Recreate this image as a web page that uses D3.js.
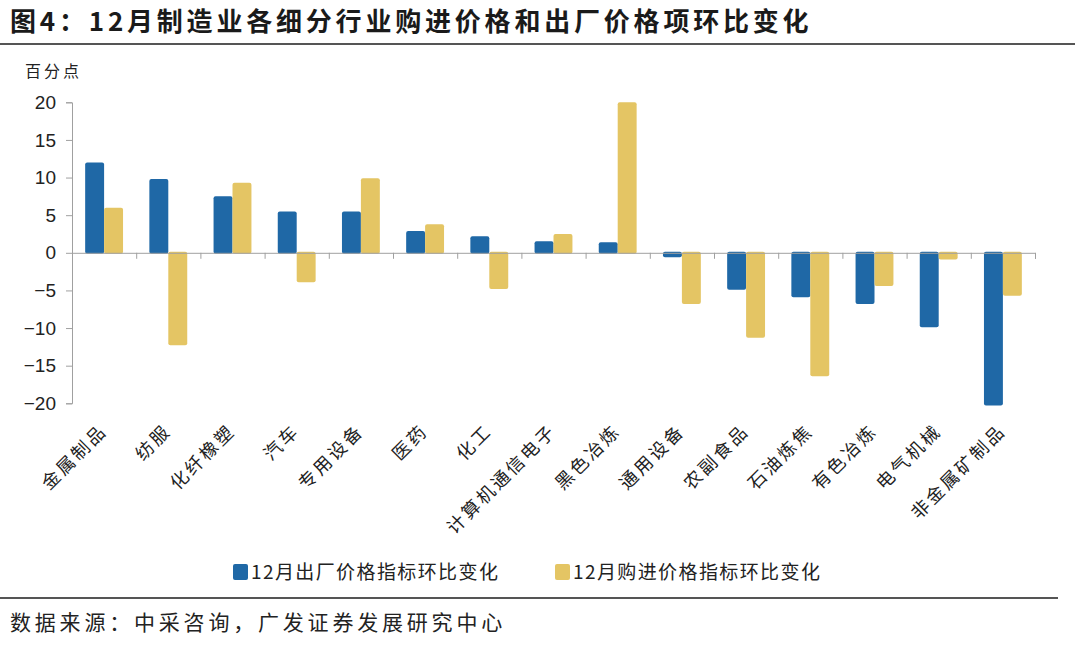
<!DOCTYPE html>
<html>
<head>
<meta charset="utf-8">
<script src="https://cdn.jsdelivr.net/npm/d3@7/dist/d3.min.js"></script>
<style>
  html, body { margin: 0; padding: 0; background: #fff; }
  svg { display: block; }
</style>
</head>
<body>
<svg id="chart" width="1080" height="645"></svg>
<script>
const categories = ["金属制品","纺服","化纤橡塑","汽车","专用设备","医药","化工","计算机通信电子","黑色冶炼","通用设备","农副食品","石油炼焦","有色冶炼","电气机械","非金属矿制品"];
const factoryPrice = [12.0, 9.8, 7.5, 5.5, 5.5, 2.9, 2.2, 1.55, 1.4, -0.6, -4.9, -5.9, -6.8, -9.9, -20.3];
const purchasePrice = [6.0, -12.3, 9.3, -3.9, 9.9, 3.8, -4.8, 2.5, 20.0, -6.8, -11.3, -16.4, -4.4, -0.9, -5.7];
const seriesNames = ["12月出厂价格指标环比变化", "12月购进价格指标环比变化"];
const yTicks = [-20, -15, -10, -5, 0, 5, 10, 15, 20];
const titleText = "图4：12月制造业各细分行业购进价格和出厂价格项环比变化";
const unitText = "百分点";
const sourceText = "数据来源：中采咨询，广发证券发展研究中心";

const colors = ["#1F68A6", "#E4C564"];
const svg = d3.select("#chart");
const cjk = "'Noto Sans CJK SC', 'Noto Sans', sans-serif";
const latin = "'Liberation Sans', Arial, 'Noto Sans CJK SC', sans-serif";

// Title
svg.append("text")
  .attr("x", 10).attr("y", 31)
  .attr("font-family", cjk).attr("font-weight", "bold")
  .attr("font-size", 26).attr("letter-spacing", 3.8)
  .attr("fill", "#1a1a1a")
  .text(titleText);
svg.append("line").attr("x1", 0).attr("x2", 1075).attr("y1", 44).attr("y2", 44)
  .attr("stroke", "#555").attr("stroke-width", 2);

// Unit
svg.append("text")
  .attr("x", 25).attr("y", 77)
  .attr("font-family", cjk).attr("font-size", 16).attr("letter-spacing", 3)
  .attr("fill", "#222").text(unitText);

const left = 72, right = 1035;
const y = d3.scaleLinear().domain([-20, 20]).range([403.3, 102.3]);
const x = d3.scaleBand().domain(categories).range([left, right]).paddingInner(0.41).paddingOuter(0.205);
const xs = d3.scaleBand().domain([0, 1]).range([0, x.bandwidth()]);
const idx = d3.scaleLinear().domain([0, categories.length]).range([left, right]);

// Y axis
const yAxis = svg.append("g").attr("transform", `translate(${left},0)`)
  .call(d3.axisLeft(y).tickValues(yTicks).tickSize(6).tickPadding(10).tickFormat(d3.format("d")));
yAxis.select(".domain").attr("stroke", "#a0a0a0");
yAxis.selectAll(".tick line").attr("stroke", "#a0a0a0");
yAxis.selectAll(".tick text").attr("font-family", latin).attr("font-size", 19).attr("fill", "#222");

// Bars
const series = [factoryPrice, purchasePrice];
series.forEach((vals, si) => {
  svg.append("g").selectAll("rect").data(vals).join("rect")
    .attr("x", (d, i) => x(categories[i]) + xs(si))
    .attr("width", xs.bandwidth())
    .attr("y", d => d >= 0 ? y(d) : y(0) - 1)
    .attr("height", d => Math.abs(y(d) - y(0)) + 1)
    .attr("rx", 2)
    .attr("fill", colors[si]);
});

// Zero axis with boundary ticks
const xAxis = svg.append("g").attr("transform", `translate(0,${y(0)})`)
  .call(d3.axisBottom(idx).tickValues(d3.range(1, categories.length + 1)).tickSize(6).tickFormat(""));
xAxis.select(".domain").attr("stroke", "#a0a0a0");
xAxis.selectAll(".tick line").attr("stroke", "#a0a0a0");

// Category labels
svg.append("g").selectAll("text").data(categories).join("text")
  .attr("transform", d => `translate(${x(d) + x.bandwidth() / 2 + 4},${432}) rotate(-45)`)
  .attr("text-anchor", "end")
  .attr("font-family", cjk).attr("font-size", 18).attr("letter-spacing", 2.8)
  .attr("fill", "#222")
  .text(d => d);

// Legend
const legendX = [233, 555];
seriesNames.forEach((name, i) => {
  const g = svg.append("g").attr("transform", `translate(${legendX[i]},564)`);
  g.append("rect").attr("width", 15).attr("height", 16).attr("rx", 2).attr("fill", colors[i]);
  g.append("text").attr("x", 18).attr("y", 15)
    .attr("font-family", cjk).attr("font-size", 19).attr("letter-spacing", 1.4)
    .attr("fill", "#222").text(name);
});

svg.append("line").attr("x1", 0).attr("x2", 1058).attr("y1", 598).attr("y2", 598)
  .attr("stroke", "#555").attr("stroke-width", 2);

svg.append("text")
  .attr("x", 10).attr("y", 630)
  .attr("font-family", cjk).attr("font-size", 21).attr("letter-spacing", 3.8)
  .attr("fill", "#222").text(sourceText);
</script>
</body>
</html>
